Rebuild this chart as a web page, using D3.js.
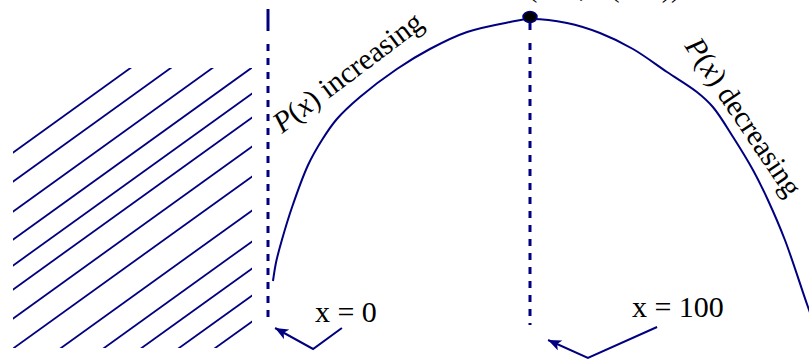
<!DOCTYPE html>
<html>
<head>
<meta charset="utf-8">
<script src="https://cdn.jsdelivr.net/npm/d3@7"></script>
<style>
  html, body { margin: 0; padding: 0; background: #fff; }
  svg { display: block; }
  text { font-family: 'Liberation Serif', 'Times New Roman', serif; }
</style>
</head>
<body>
<svg id="chart" width="809" height="360"></svg>
<script>
// ---- data ----
// profit curve P(x), sampled along the drawn curve
const curveX = [1.9, 3.1, 5.3, 9.2, 15.3, 20.6, 26.3, 35.1, 49.2, 61.8, 76, 92.4, 100, 114.1, 126.7, 139.3, 152.3, 163.7, 169.8, 177.5, 185.1, 190.8, 197.3, 206.1, 210.7];
const curveP = [49, 68, 90, 123, 165, 190, 211, 233, 261, 281, 298, 308, 311, 307, 297, 281, 258, 238, 223, 193, 160, 130, 90, 23, -10];
// maximum point
const peakX = [100];
const peakP = [313];
// vertical reference lines at x = 0 and x = 100
const refX = [0, 100];
const refSolidTop = [321, 313];
const refSolidBottom = [299, 300];
const refDashTop = [286, 287];
const refDashBottom = [6, 5];
// hatched (infeasible) region x < 0 : hatch line intercepts at x = 0
const hatchIntercepts = [361, 332, 302, 274, 248, 224, 195, 165, 131, 100, 73, 46, 20];
const hatchSlope = 1.886;
const hatchRegionX = [-97.3, -6.1];
const hatchRegionP = [-18, 262];
// annotation labels
const labelTexts = ["x = 0", "x = 100"];
const labelX = [17.9, 138.9];
const labelP = [8, 13];
// annotation arrows (polyline points, arrowhead at last point)
const arrow1X = [28.2, 17.2, 2.7];
const arrow1P = [2, -19, 2];
const arrow2X = [148.5, 122.1, 106.9];
const arrow2P = [3, -28, -10];

// ---- scales ----
const x = d3.scaleLinear().domain([0, 100]).range([268, 530]);
const y = d3.scaleLinear().domain([0, 311]).range([330, 19]);

const color = "#000080";
const FONT = "'Liberation Serif', 'Times New Roman', serif";
const svg = d3.select("#chart");
const defs = svg.append("defs");

defs.append("clipPath").attr("id", "hatchClip")
  .append("rect")
  .attr("x", x(hatchRegionX[0]))
  .attr("y", y(hatchRegionP[1]))
  .attr("width", x(hatchRegionX[1]) - x(hatchRegionX[0]))
  .attr("height", y(hatchRegionP[0]) - y(hatchRegionP[1]));

defs.append("marker")
  .attr("id", "arrowhead")
  .attr("viewBox", "0 0 12 10")
  .attr("refX", 12).attr("refY", 5)
  .attr("markerWidth", 14).attr("markerHeight", 11)
  .attr("markerUnits", "userSpaceOnUse")
  .attr("orient", "auto")
  .append("path")
  .attr("d", "M0,0 L12,5 L0,10 L3,5 Z")
  .attr("fill", color);

// hatching
const hatchG = svg.append("g").attr("clip-path", "url(#hatchClip)");
hatchG.selectAll("line").data(hatchIntercepts).join("line")
  .attr("x1", x(-110)).attr("y1", c => y(c + hatchSlope * -110))
  .attr("x2", x(0)).attr("y2", c => y(c))
  .attr("stroke", color).attr("stroke-width", 1.8);

// reference lines
refX.forEach((rx, i) => {
  svg.append("line")
    .attr("x1", x(rx)).attr("x2", x(rx))
    .attr("y1", y(refSolidTop[i])).attr("y2", y(refSolidBottom[i]))
    .attr("stroke", color).attr("stroke-width", 3);
  svg.append("line")
    .attr("x1", x(rx)).attr("x2", x(rx))
    .attr("y1", y(refDashTop[i])).attr("y2", y(refDashBottom[i]))
    .attr("stroke", color).attr("stroke-width", 3)
    .attr("stroke-dasharray", "7,7");
});

// curve
const pts = curveX.map((v, i) => [v, curveP[i]]);
svg.append("path")
  .datum(pts)
  .attr("d", d3.line().x(d => x(d[0])).y(d => y(d[1])).curve(d3.curveCatmullRom.alpha(0.5)))
  .attr("fill", "none").attr("stroke", color).attr("stroke-width", 2);

// peak point
svg.selectAll("ellipse.peak").data(peakX).join("ellipse")
  .attr("class", "peak")
  .attr("cx", (d) => x(d)).attr("cy", (d, i) => y(peakP[i]))
  .attr("rx", 7).attr("ry", 5.5)
  .attr("fill", "#000").attr("stroke", color).attr("stroke-width", 1.5);

// top label (mostly outside the view, as in the original)
const topLabel = svg.append("text")
  .attr("x", x(99.2)).attr("y", y(333))
  .attr("font-family", FONT)
  .attr("font-size", 28).attr("fill", "#000");
topLabel.append("tspan").text("(100, ");
topLabel.append("tspan").attr("font-style", "italic").text("P");
topLabel.append("tspan").text("(100))");

// rotated labels
function curveLabel(px, pp, angle, word) {
  const t = svg.append("text")
    .attr("transform", `translate(${x(px)},${y(pp)}) rotate(${angle})`)
    .attr("font-family", FONT)
    .attr("font-size", 29.5).attr("fill", "#000");
  t.append("tspan").attr("font-style", "italic").text("P");
  t.append("tspan").text("(");
  t.append("tspan").attr("font-style", "italic").text("x");
  t.append("tspan").text(") " + word);
}
curveLabel(5.3, 196, -37, "increasing");
curveLabel(158.8, 284, 56, "decreasing");

// x labels
svg.selectAll("text.xl").data(labelTexts).join("text")
  .attr("class", "xl")
  .attr("x", (d, i) => x(labelX[i])).attr("y", (d, i) => y(labelP[i]))
  .attr("font-family", FONT)
  .attr("font-size", 30).attr("fill", "#000")
  .text(d => d);

// arrows
const arrowLine = d3.line().x(d => x(d[0])).y(d => y(d[1]));
[[arrow1X, arrow1P], [arrow2X, arrow2P]].forEach(([ax, ap]) => {
  svg.append("path")
    .datum(ax.map((v, i) => [v, ap[i]]))
    .attr("d", arrowLine)
    .attr("fill", "none").attr("stroke", color).attr("stroke-width", 2)
    .attr("marker-end", "url(#arrowhead)");
});
</script>
</body>
</html>
